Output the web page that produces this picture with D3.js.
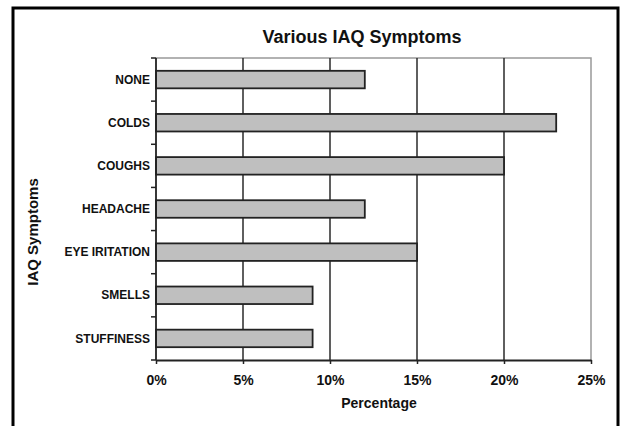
<!DOCTYPE html>
<html>
<head>
<meta charset="utf-8">
<script src="https://cdn.jsdelivr.net/npm/d3@7"></script>
<style>
  body { margin: 0; background: #fff; }
  svg { display: block; font-family: "Liberation Sans", Arial, sans-serif; }
</style>
</head>
<body>
<svg id="chart" width="624" height="426"></svg>
<script>
// data
const categories = ["NONE", "COLDS", "COUGHS", "HEADACHE", "EYE IRITATION", "SMELLS", "STUFFINESS"];
const percentages = [12, 23, 20, 12, 15, 9, 9];
const xTicks = [0, 5, 10, 15, 20, 25];

const svg = d3.select("#chart");

// plot area
const plotLeft = 156, plotRight = 591, plotTop = 58, plotBottom = 360;

const x = d3.scaleLinear().domain([0, 25]).range([plotLeft, plotRight]);
const y = d3.scaleBand().domain(categories).range([plotTop, plotBottom])
    .paddingInner(0.594).paddingOuter(0.297);

// outer frame
svg.append("rect")
    .attr("x", 13).attr("y", 8)
    .attr("width", 605).attr("height", 440)
    .attr("fill", "none")
    .attr("stroke", "#000")
    .attr("stroke-width", 3);

// title
svg.append("text")
    .attr("x", 362).attr("y", 43)
    .attr("text-anchor", "middle")
    .attr("font-size", 18).attr("font-weight", "bold")
    .attr("fill", "#111")
    .text("Various IAQ Symptoms");

// plot border (top and right in grey)
svg.append("path")
    .attr("d", `M${plotLeft},${plotTop}H${plotRight}V${plotBottom}`)
    .attr("fill", "none")
    .attr("stroke", "#999")
    .attr("stroke-width", 1.5);

// vertical grid lines
svg.append("g")
    .selectAll("line")
    .data(xTicks.filter(d => d > 0 && d < 25))
    .enter()
    .append("line")
    .attr("x1", d => x(d)).attr("x2", d => x(d))
    .attr("y1", plotTop).attr("y2", plotBottom)
    .attr("stroke", "#2a2a2a")
    .attr("stroke-width", 1.5);

// bars
svg.append("g")
    .selectAll("rect")
    .data(categories)
    .enter()
    .append("rect")
    .attr("x", x(0))
    .attr("y", d => y(d))
    .attr("width", (d, i) => x(percentages[i]) - x(0))
    .attr("height", y.bandwidth())
    .attr("fill", "#bfbfbf")
    .attr("stroke", "#222")
    .attr("stroke-width", 1.8);

// x axis
const xAxis = svg.append("g")
    .attr("transform", `translate(0,${plotBottom})`)
    .call(d3.axisBottom(x).tickValues(xTicks).tickFormat(d => d + "%").tickSize(4).tickSizeOuter(0));
xAxis.select(".domain").attr("stroke", "#222").attr("stroke-width", 1.8);
xAxis.selectAll(".tick line").attr("stroke", "#222").attr("stroke-width", 1.5);
xAxis.selectAll(".tick text")
    .attr("font-size", 14).attr("font-weight", "bold")
    .attr("font-family", "Liberation Sans, Arial, sans-serif")
    .attr("fill", "#111")
    .attr("dy", null).attr("y", 25);

// y axis: line, ticks at band boundaries, labels
svg.append("line")
    .attr("x1", plotLeft).attr("x2", plotLeft)
    .attr("y1", plotTop).attr("y2", plotBottom)
    .attr("stroke", "#222").attr("stroke-width", 1.8);

const boundaries = categories.map(c => y(c) - y.step() * y.paddingInner() / 2)
    .concat([plotBottom]);
svg.append("g")
    .selectAll("line")
    .data(boundaries)
    .enter()
    .append("line")
    .attr("x1", plotLeft - 5).attr("x2", plotLeft)
    .attr("y1", d => d).attr("y2", d => d)
    .attr("stroke", "#222").attr("stroke-width", 1.5);

svg.append("g")
    .selectAll("text")
    .data(categories)
    .enter()
    .append("text")
    .attr("x", 150)
    .attr("y", d => y(d) + y.bandwidth() / 2)
    .attr("dy", "0.35em")
    .attr("text-anchor", "end")
    .attr("font-size", 12).attr("font-weight", "bold")
    .attr("fill", "#111")
    .text(d => d);

// axis titles
svg.append("text")
    .attr("x", 379).attr("y", 408)
    .attr("text-anchor", "middle")
    .attr("font-size", 14).attr("font-weight", "bold")
    .attr("fill", "#111")
    .text("Percentage");

svg.append("text")
    .attr("transform", "translate(38,232) rotate(-90)")
    .attr("text-anchor", "middle")
    .attr("font-size", 15).attr("font-weight", "bold")
    .attr("fill", "#111")
    .text("IAQ Symptoms");
</script>
</body>
</html>
